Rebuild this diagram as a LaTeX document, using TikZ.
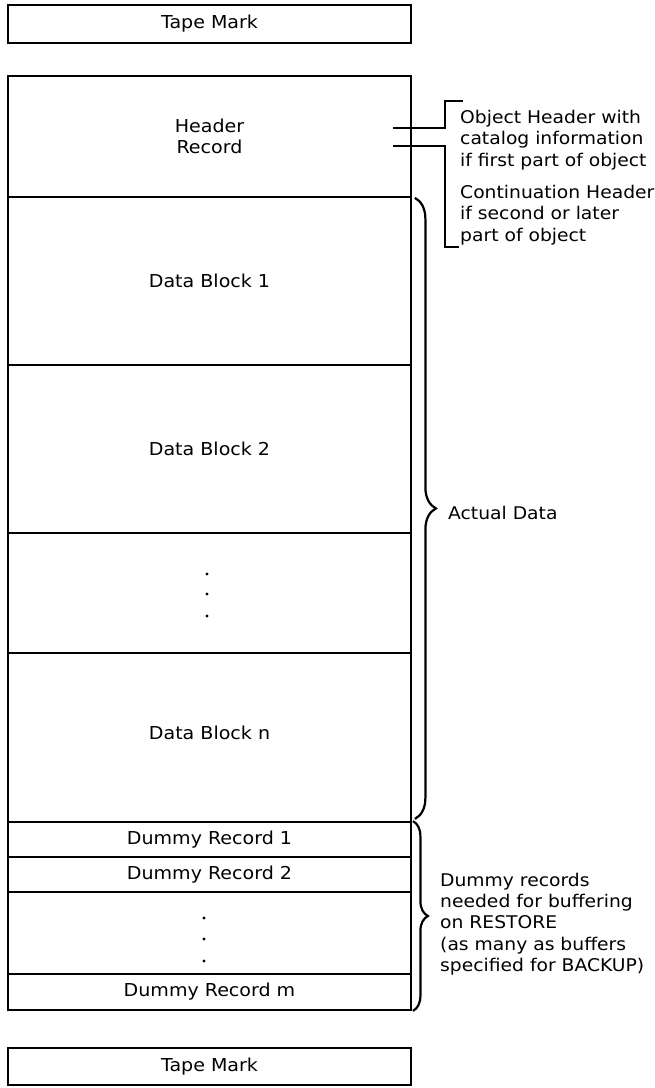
\documentclass[tikz,border=0pt]{standalone}
\usepackage{fontspec}
\setmainfont{DejaVu Sans}[FakeStretch=1.07]
\usetikzlibrary{decorations.pathreplacing}
\tikzset{
  rec/.style={draw,line width=1.8pt,minimum width=403pt,inner sep=0pt,align=center,
    font=\fontsize{17.8}{21}\selectfont},
  lbl/.style={anchor=west,align=left,inner sep=0pt,font=\fontsize{17.5}{21.2}\selectfont},
  tick/.style={line width=1.8pt},
  brc/.style={decorate,decoration={brace,amplitude=#1},line width=2.2pt},
  brc/.default=20pt
}
\begin{document}
\begin{tikzpicture}[x=1pt,y=-1pt]
\useasboundingbox (0,0) rectangle (655,1088);
\node[rec,minimum height=38pt] (tm1) at (209.5,24) {Tape Mark};
\node[rec,minimum height=121pt] (hdr) at (209.5,136.5) {Header\\Record};
\node[rec,minimum height=168pt] (blk1) at (209.5,281) {Data Block 1};
\node[rec,minimum height=168pt] (blk2) at (209.5,449) {Data Block 2};
\node[rec,minimum height=120pt] (gap1) at (209.5,593) {};
\node[rec,minimum height=169pt] (blkn) at (209.5,737.5) {\raisebox{9pt}{Data Block n}};
\node[rec,minimum height=35pt] (dm1) at (209.5,839.5) {Dummy Record 1};
\node[rec,minimum height=35pt] (dm2) at (209.5,874.5) {Dummy Record 2};
\node[rec,minimum height=82pt] (gap2) at (209.5,933) {};
\node[rec,minimum height=36pt] (dmm) at (209.5,992) {Dummy Record m};
\node[rec,minimum height=37pt] (tm2) at (209.5,1066.5) {Tape Mark};
\fill (207,574) circle (1.6pt);
\fill (207,594) circle (1.6pt);
\fill (207,616) circle (1.6pt);
\fill (204,918) circle (1.6pt);
\fill (204,939) circle (1.6pt);
\fill (204,961) circle (1.6pt);
\node[lbl] (objlbl) at (460,140) {Object Header with\\catalog information\\if first part of object};
\node[lbl] (contlbl) at (460,215) {Continuation Header\\if second or later\\part of object};
\node[lbl] (actlbl) at (448,513) {Actual Data};
\node[lbl] (dumlbl) at (440,924) {Dummy records\\needed for buffering\\on RESTORE\\(as many as buffers\\specified for BACKUP)};
\coordinate (o1) at (393,128);
\coordinate (o2) at (463,101);
\coordinate (c1) at (393,146);
\coordinate (c2) at (459,247);
\draw[tick] (o1) -- (445,128) |- (o2);
\draw[tick] (c1) -- (445,146) |- (c2);
\draw[brc=21pt] ([xshift=3pt]hdr.south east) -- ([xshift=3pt,yshift=4pt]blkn.south east);
\draw[brc=15pt] ([xshift=1pt]dm1.north east) -- ([xshift=1pt]dmm.south east);
\end{tikzpicture}
\end{document}
